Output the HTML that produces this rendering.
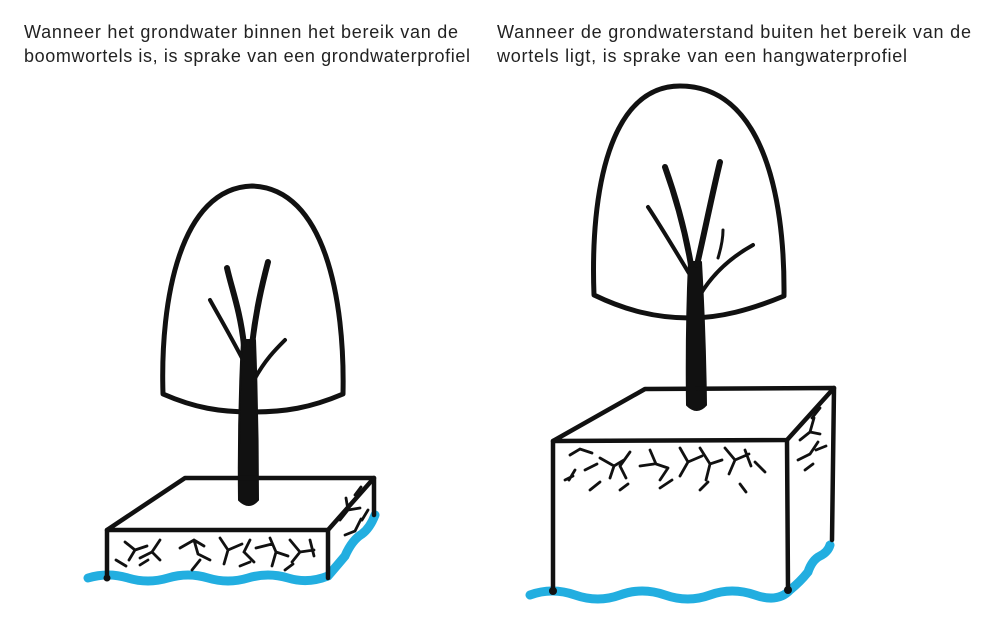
<!DOCTYPE html>
<html><head><meta charset="utf-8"><style>
html,body{margin:0;padding:0;background:#fff;}
svg{display:block}
text{font-family:"Liberation Sans",sans-serif;font-size:18px;fill:#222}
</style></head><body>
<svg width="986" height="620" viewBox="0 0 986 620" xmlns="http://www.w3.org/2000/svg">
<text x="24" y="38" textLength="434">Wanneer het grondwater binnen het bereik van de</text>
<text x="24" y="62" textLength="446">boomwortels is, is sprake van een grondwaterprofiel</text>
<text x="497" y="38" textLength="474">Wanneer de grondwaterstand buiten het bereik van de</text>
<text x="497" y="62" textLength="410">wortels ligt, is sprake van een hangwaterprofiel</text>

<g fill="none" stroke="#111" stroke-linecap="round" stroke-linejoin="round">
<path d="M163,394 C160,300 180,188 252,186 C325,188 345,300 343,394 C310,408 285,412 252,412 C220,412 195,408 163,394 Z" stroke-width="5"/>
<path d="M594,295 C590,190 610,86 680,86 C760,86 785,190 784,296 C750,310 720,318 690,318 C655,318 625,310 594,295 Z" stroke-width="5"/>
</g>

<g fill="#111" stroke="#111" stroke-linecap="round" stroke-linejoin="round">
<path d="M239,500 Q238,420 242,340 L255,340 Q258,420 258,500 Q249,510 239,500 Z" stroke-width="2"/>
<path d="M687,405 Q686,330 689,262 L701,262 Q705,330 706,405 Q697,415 687,405 Z" stroke-width="2"/>
</g>
<g fill="none" stroke="#111" stroke-linecap="round">
<path d="M244,345 C240,310 232,290 227,268" stroke-width="6"/>
<path d="M252,345 C256,310 262,285 268,262" stroke-width="6"/>
<path d="M243,360 C230,335 220,318 210,300" stroke-width="4"/>
<path d="M254,380 C265,360 275,350 285,340" stroke-width="4"/>
<path d="M691,265 C685,230 675,195 665,167" stroke-width="6"/>
<path d="M697,265 C705,230 712,195 720,162" stroke-width="6"/>
<path d="M690,275 C675,250 660,225 648,207" stroke-width="4"/>
<path d="M700,295 C715,270 735,255 753,245" stroke-width="4"/>
<path d="M718,258 C722,245 723,238 723,230" stroke-width="3"/>
</g>

<g fill="none" stroke="#22aee0" stroke-linecap="round" stroke-width="9">
<path d="M88,578 Q108,572 128,578 T168,578 T208,578 T248,578 T288,578 T328,576 Q340,562 345,556 Q352,540 362,534 Q370,528 375,515"/>
<path d="M530,595 Q552,587 575,595 T620,595 T665,595 T710,595 T755,595 T790,590 Q800,582 808,572 Q812,560 820,556 Q828,552 830,545"/>
</g>

<g fill="none" stroke="#111" stroke-width="2.8" stroke-linecap="round">
<path d="M125,542 l10,8 l-6,10 M135,550 l12,-4 M160,540 l-8,12 l8,8 M152,552 l-12,6 M180,548 l14,-8 l10,6 M194,540 l4,14 l12,6 M200,560 l-8,10 M220,538 l8,12 l14,-6 M228,550 l-4,14 M250,540 l-6,12 l10,10 M256,548 l16,-4 M270,538 l6,14 l12,4 M276,552 l-4,14 M290,540 l10,12 l-8,10 M300,552 l14,-2 M310,540 l4,16 M116,560 l10,6 M140,565 l8,-5 M240,566 l10,-4 M285,570 l8,-6"/>
<path d="M340,520 l8,-10 l-2,-12 M348,510 l12,-2 M355,495 l6,-8 M345,535 l10,-4 l6,-12 M362,520 l6,-10"/>
<path d="M570,455 l10,-6 l12,4 M575,470 l-6,10 M585,470 l12,-6 M600,458 l14,8 l10,-6 M614,466 l-4,12 M630,452 l-10,14 l6,12 M640,466 l14,-2 M650,450 l6,14 l12,4 M668,468 l-8,12 M680,448 l8,14 l-8,14 M688,462 l14,-6 M700,448 l10,16 l12,-4 M710,464 l-4,16 M725,448 l10,12 l-6,14 M735,460 l14,-6 M745,450 l6,16 M755,462 l10,10 M565,480 l8,-4 M590,490 l10,-8 M620,490 l8,-6 M660,488 l12,-8 M700,490 l8,-8 M740,484 l6,8"/>
<path d="M800,440 l10,-8 l4,-14 M810,432 l10,2 M812,418 l8,-10 M798,460 l12,-6 l8,-12 M816,450 l10,-4 M805,470 l8,-6"/>
</g>

<g fill="none" stroke="#111" stroke-width="4.5" stroke-linecap="round" stroke-linejoin="round">
<path d="M107,530 L185,478 L374,478 L328,530 Z"/>
<path d="M107,530 L107,577 M328,530 L328,578 M374,478 L374,515"/>
<path d="M553,441 L645,389 L834,388 L787,440 Z"/>
<path d="M553,441 L553,590 M787,440 L788,590 M834,388 L832,540"/>
</g>
<g fill="#111"><circle cx="107" cy="578" r="3.5"/><circle cx="553" cy="591" r="4"/><circle cx="788" cy="590" r="4"/></g>
</svg>
</body></html>
